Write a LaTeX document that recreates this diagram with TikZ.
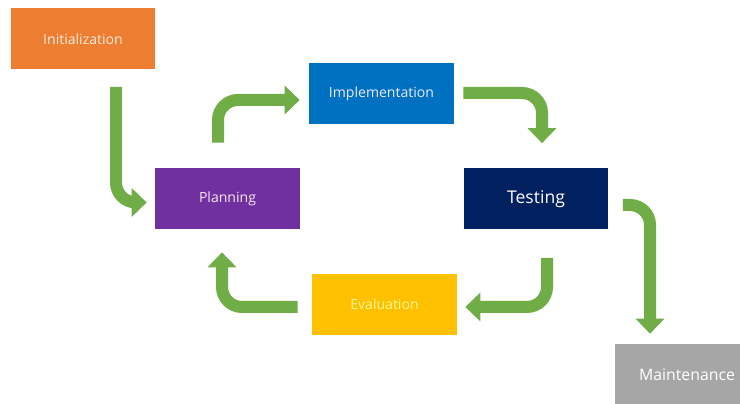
\documentclass[tikz,border=0pt]{standalone}
\usepackage{fontspec}
\setmainfont{Open Sans}
\usepackage{tikz}
\usetikzlibrary{arrows.meta}
\usetikzlibrary{calc}

\definecolor{initorange}{HTML}{ED7D31}
\definecolor{planpurple}{HTML}{7030A0}
\definecolor{implblue}{HTML}{0070C0}
\definecolor{testnavy}{HTML}{002060}
\definecolor{evalyellow}{HTML}{FFC000}
\definecolor{maintgray}{HTML}{A6A6A6}
\definecolor{flowgreen}{HTML}{70AD47}

\begin{document}
\begin{tikzpicture}[x=0.02cm, y=-0.02cm,
stagebox/.style={rectangle, inner sep=0pt, minimum width=2.9cm, minimum height=1.22cm, font=\fontsize{8}{10}\selectfont},
initbox/.style={stagebox, fill=initorange, text=orange!15},
planbox/.style={stagebox, fill=planpurple, text=purple!10},
implbox/.style={stagebox, fill=implblue, text=blue!8},
testbox/.style={stagebox, fill=testnavy, text=white, font=\fontsize{10}{12}\selectfont},
evalbox/.style={stagebox, fill=evalyellow, text=yellow!40},
maintbox/.style={stagebox, fill=maintgray, text=white, font=\fontsize{9}{11}\selectfont},
flow/.style={draw=flowgreen, line width=0.24cm, rounded corners=0.4cm, -{Triangle[width=0.56cm,length=0.3cm]}},
]
\fill[white] (0,0) rectangle (740,404);
\useasboundingbox (0,0) rectangle (740,404);

%Nodes
\node[initbox]   (init)  at (83,39)      {Initialization};
\node[planbox]   (plan)  at (227.5,198.5) {Planning};
\node[implbox]   (impl)  at (381.5,94)   {Implementation};
\node[testbox]   (test)  at (536,199)    {Testing};
\node[evalbox]   (eval)  at (384.5,304.5) {Evaluation};
\node[maintbox]  (maint) at (687,374.5)  {Maintenance};

%Lines
\draw[flow] ($(init.south)+(33,17)$) |- ($(plan.west)+(-8,4)$);
\draw[flow] ($(plan.north)+(-9.5,-25)$) |- ($(impl.west)+(-9,6)$);
\draw[flow] ($(impl.east)+(9,-1)$) -| ($(test.north)+(6,-25)$);
\draw[flow] ($(test.south)+(11,28)$) |- ($(eval.east)+(8,2.5)$);
\draw[flow] ($(eval.west)+(-14,2.5)$) -| ($(plan.south)+(-5.5,23)$);
\draw[flow] ($(test.east)+(14,6)$) -| ($(maint.north)+(-37,-10)$);
\end{tikzpicture}
\end{document}
